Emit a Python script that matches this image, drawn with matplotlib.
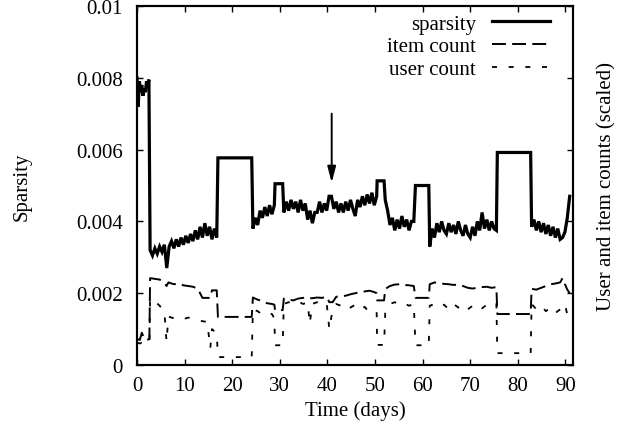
import numpy as np
import matplotlib
matplotlib.use("Agg")
import matplotlib.pyplot as plt

# ---------------- data (values in units of 1e-3) ----------------
# sparsity: noisy segments and flat "gap" plateaus
sp_days = [
    np.arange(0, 2.51, 0.25),
    np.arange(2.75, 16.76, 0.5),
    [17.0, 24.1],
    np.arange(24.35, 28.86, 0.5),
    [29.0, 30.6],
    np.arange(30.85, 50.36, 0.5),
    [50.45, 51.9],
    np.arange(52.15, 58.16, 0.5),
    [58.5, 61.3],
    np.arange(61.5, 75.51, 0.5),
    [75.7, 82.7],
    np.arange(82.9, 90.91, 0.5),
]
sp_vals = [
    [8.0, 7.2, 7.9, 7.6, 7.8, 7.5, 7.7, 7.6, 7.9, 7.8, 7.95],
    [3.2, 3.05, 3.25, 3.1, 3.3, 3.15, 3.35, 2.7, 3.3, 3.45, 3.25, 3.5, 3.3, 3.55, 3.35,
     3.6, 3.4, 3.65, 3.45, 3.75, 3.5, 3.85, 3.55, 3.95, 3.6, 3.85, 3.5, 3.8, 3.55],
    [5.77, 5.77],
    [3.8, 4.1, 3.9, 4.3, 4.1, 4.4, 4.15, 4.45, 4.2, 4.45],
    [5.05, 5.05],
    [4.25, 4.55, 4.3, 4.6, 4.35, 4.55, 4.25, 4.6, 4.3, 4.5,
     4.05, 4.3, 3.95, 4.25, 4.25, 4.55, 4.25, 4.5, 4.3, 4.7,
     4.7, 4.35, 4.55, 4.25, 4.5, 4.25, 4.55, 4.3, 4.6, 4.35,
     4.15, 4.6, 4.4, 4.7, 4.45, 4.75, 4.5, 4.8, 4.45, 4.7],
    [5.13, 5.13],
    [4.6, 4.3, 3.9, 4.1, 3.75, 4.05, 3.8, 4.15, 3.85, 4.05, 3.75, 4.0, 4.0],
    [5.0, 5.0],
    [3.3, 3.8, 3.55, 3.95, 3.7, 4.0, 3.75, 3.65, 3.95, 3.7, 3.9, 3.65, 4.0, 3.75, 3.6,
     3.9, 3.65, 3.55, 3.85, 3.6, 4.0, 3.75, 4.25, 3.8, 4.05, 3.75, 4.0, 3.8, 3.75],
    [5.92, 5.92],
    [3.85, 4.05, 3.75, 4.0, 3.7, 3.95, 3.65, 3.9, 3.6, 3.85, 3.55, 3.8, 3.5, 3.55, 3.7, 4.1, 4.7],
]

count_days = [
    0.0, 0.6, 1.0, 1.6, 2.0, 2.6,
    2.75, 3.75, 4.75, 5.75, 6.2, 6.6, 7.75, 8.75, 9.75, 10.75, 11.75, 12.75, 13.75, 14.75, 15.4, 15.75, 16.75,
    17.0, 24.1,
    24.35, 25.35, 26.35, 27.35, 28.35, 28.85,
    29.0, 30.6,
    30.85, 31.85, 32.85, 33.85, 34.85, 35.85, 36.3, 36.8, 37.85, 38.85, 39.85, 40.4, 41.1,
    41.85, 42.85, 43.85, 44.85, 45.85, 46.85, 47.85, 48.85, 49.85, 50.35,
    50.45, 51.9,
    52.15, 53.15, 54.15, 55.15, 56.15, 57.15, 58.15,
    58.5, 61.3,
    61.5, 62.5, 63.5, 64.5, 65.5, 66.5, 67.5, 68.5, 69.5, 70.5, 71.5, 72.5, 73.5, 74.5, 75.5,
    75.7, 82.7,
    82.9, 83.9, 84.9, 85.9, 86.9, 87.9, 88.9, 89.4, 89.9, 90.4, 90.9,
]
item_count = [
    0.72, 0.7, 0.9, 0.72, 0.7, 0.72,
    2.42, 2.4, 2.38, 2.3, 2.2, 2.3, 2.25, 2.27, 2.22, 2.2, 2.18, 2.13, 1.87, 1.87, 1.87, 2.08, 2.08,
    1.34, 1.34,
    1.88, 1.82, 1.78, 1.72, 1.7, 1.68,
    1.53, 1.53,
    1.85, 1.82, 1.8, 1.85, 1.87, 1.88, 1.86, 1.86, 1.88, 1.87, 1.9, 1.75, 1.75,
    1.9, 1.92, 1.93, 1.97, 2.0, 2.03, 2.05, 2.07, 2.03, 2.0,
    1.8, 1.8,
    2.12, 2.2, 2.24, 2.25, 2.23, 2.22, 2.2,
    1.87, 1.87,
    2.25, 2.3, 2.28, 2.26, 2.25, 2.23, 2.24, 2.2, 2.15, 2.13, 2.15, 2.17, 2.18, 2.15, 2.17,
    1.42, 1.42,
    2.12, 2.1, 2.15, 2.2, 2.25, 2.27, 2.3, 2.42, 2.25, 2.1, 2.0,
]
user_count = [
    0.62, 0.6, 0.62, 0.6, 0.62, 0.6,
    1.85, 1.78, 1.65, 1.5, 0.65, 1.35, 1.3, 1.33, 1.28, 1.32, 1.3, 1.25, 1.22, 1.2, 0.47, 1.0, 0.88,
    0.22, 0.22,
    1.55, 1.5, 1.4, 1.45, 1.42, 1.3,
    0.55, 0.55,
    1.7, 1.75, 1.72, 1.78, 1.7, 1.74, 1.15, 1.7, 1.75, 1.68, 1.72, 1.0, 1.55,
    1.7, 1.65, 1.72, 1.6, 1.68, 1.55, 1.62, 1.45, 1.4, 1.45,
    0.56, 0.56,
    1.45, 1.7, 1.75, 1.68, 1.72, 1.65, 1.7,
    0.55, 0.55,
    1.65, 1.7, 1.62, 1.68, 1.55, 1.7, 1.6, 1.68, 1.55, 1.65, 1.7, 1.58, 1.68, 1.62, 1.7,
    0.33, 0.33,
    1.7, 1.55, 1.65, 1.5, 1.6, 1.45, 1.55, 1.65, 1.7, 1.4, 1.3,
]

y_ticks = [0, 0.002, 0.004, 0.006, 0.008, 0.01]
y_ticklabels = ["0", "0.002", "0.004", "0.006", "0.008", "0.01"]
x_ticks = [0, 10, 20, 30, 40, 50, 60, 70, 80, 90]

arrow_day = 40.9
arrow_from, arrow_to = 0.0070, 0.00508

# ---------------- plotting ----------------
plt.rcParams["font.family"] = ["Liberation Serif", "DejaVu Serif"]
plt.rcParams["font.size"] = 15
plt.rcParams["lines.scale_dashes"] = False

fig = plt.figure(figsize=(6.18, 4.35), dpi=100)
ax = fig.add_axes([0.2217, 0.1586, 0.9272 - 0.2217, 0.9839 - 0.1586])

sx = np.concatenate([np.asarray(d, float) for d in sp_days])
sy = np.concatenate([np.asarray(v, float) for v in sp_vals]) * 1e-3
cx = np.asarray(count_days, float)

ax.plot(sx, sy, color="black", lw=2.3, label="sparsity", solid_joinstyle="miter")
l_item, = ax.plot(cx, np.asarray(item_count) * 1e-3, color="black", lw=1.4, label="item count")
l_item.set_dashes([10, 4.5])
l_user, = ax.plot(cx, np.asarray(user_count) * 1e-3, color="black", lw=1.3, label="user count")
l_user.set_dashes([3.6, 8.4])

ax.annotate("", xy=(arrow_day, arrow_to), xytext=(arrow_day, arrow_from),
            arrowprops=dict(arrowstyle="-|>,head_length=0.95,head_width=0.25",
                            lw=1.4, color="black", mutation_scale=10,
                            shrinkA=0, shrinkB=0))

ax.set_xlim(0, 91.6)
ax.set_ylim(0, 0.01)
ax.set_xticks(x_ticks)
ax.set_yticks(y_ticks)
ax.set_yticklabels(y_ticklabels)
ax.tick_params(direction="in", length=4.5, width=1.0, top=True, pad=8)
ax.tick_params(axis="y", pad=10)
for s in ax.spines.values():
    s.set_linewidth(1.5)
ax.set_xlabel("Time (days)", labelpad=4)
ax.set_ylabel("Sparsity", labelpad=32)

ax2 = ax.twinx()
ax2.set_ylim(0, 0.01)
ax2.set_yticks(y_ticks)
ax2.set_yticklabels([])
ax2.tick_params(direction="in", length=4.5, width=1.0)
for s in ax2.spines.values():
    s.set_linewidth(1.5)
ax2.set_ylabel("User and item counts (scaled)", labelpad=14)

ax.legend(loc="upper right", bbox_to_anchor=(0.961, 0.995), frameon=False, markerfirst=False,
          handlelength=2.75, handletextpad=0.8, labelspacing=0.15,
          borderaxespad=0.0, borderpad=0.3)

fig.savefig("out.png", dpi=100)
